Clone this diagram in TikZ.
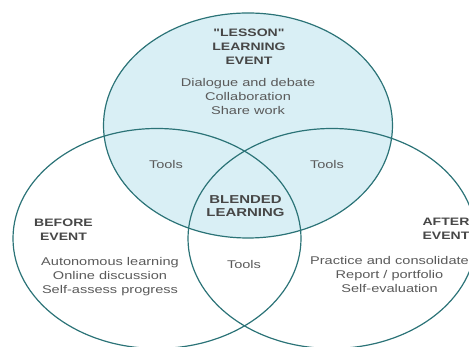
\documentclass[tikz,border=0pt]{standalone}
\usepackage{fontspec}
\usetikzlibrary{shapes.geometric}
\newfontfamily\vennfont[FakeStretch=1.3]{Liberation Sans}
\definecolor{vennline}{HTML}{2B7377}
\definecolor{vennfill}{HTML}{D9EFF5}
\definecolor{venntext}{HTML}{5A5A5A}
\definecolor{vennhead}{HTML}{474747}
\tikzset{
    %Define style for the three sets
    vennset/.style={
           ellipse,
           draw=vennline, line width=1.2pt,
           inner sep=0pt,
           minimum width=288pt,
           minimum height=220pt,
           },
    %Define style for the headings
    head/.style={
           font=\vennfont\bfseries\fontsize{10.8}{13.8}\selectfont,
           text=vennhead,
           align=center,
           inner sep=0pt,
           },
    %Define style for the lists
    body/.style={
           font=\vennfont\fontsize{11.2}{14}\selectfont,
           text=venntext,
           align=center,
           inner sep=0pt,
           }
}
\begin{document}
\begin{tikzpicture}[x=1pt,y=1pt]
\clip (0,0) rectangle (469,347);
 %sets
\node[vennset, fill=vennfill, minimum width=289pt, minimum height=225pt](1) at (248,221.5){};
\node[vennset](2) at (157,108.5){};
\node[vennset](3) at (332,108.5){};
 %texts
\node[head](4) at (249,300.3){"LESSON"\\LEARNING\\EVENT};
\node[body](5) at (248,250.5){Dialogue and debate\\Collaboration\\Share work};
\node[head](6) at (63.5,117.5){BEFORE\\EVENT};
\node[body](7) at (110,70.3){Autonomous learning\\Online discussion\\Self-assess progress};
\node[head](8) at (446,118.5){AFTER\\EVENT};
\node[body](9) at (389.5,72.5){Practice and consolidate\\Report / portfolio\\Self-evaluation};
\node[head, font=\vennfont\bfseries\fontsize{11.5}{13.4}\selectfont](10) at (245.5,141){BLENDED\\LEARNING};
\node[body](11) at (166,182){Tools};
\node[body](12) at (327,182){Tools};
\node[body](13) at (244,82){Tools};
\end{tikzpicture}
\end{document}
